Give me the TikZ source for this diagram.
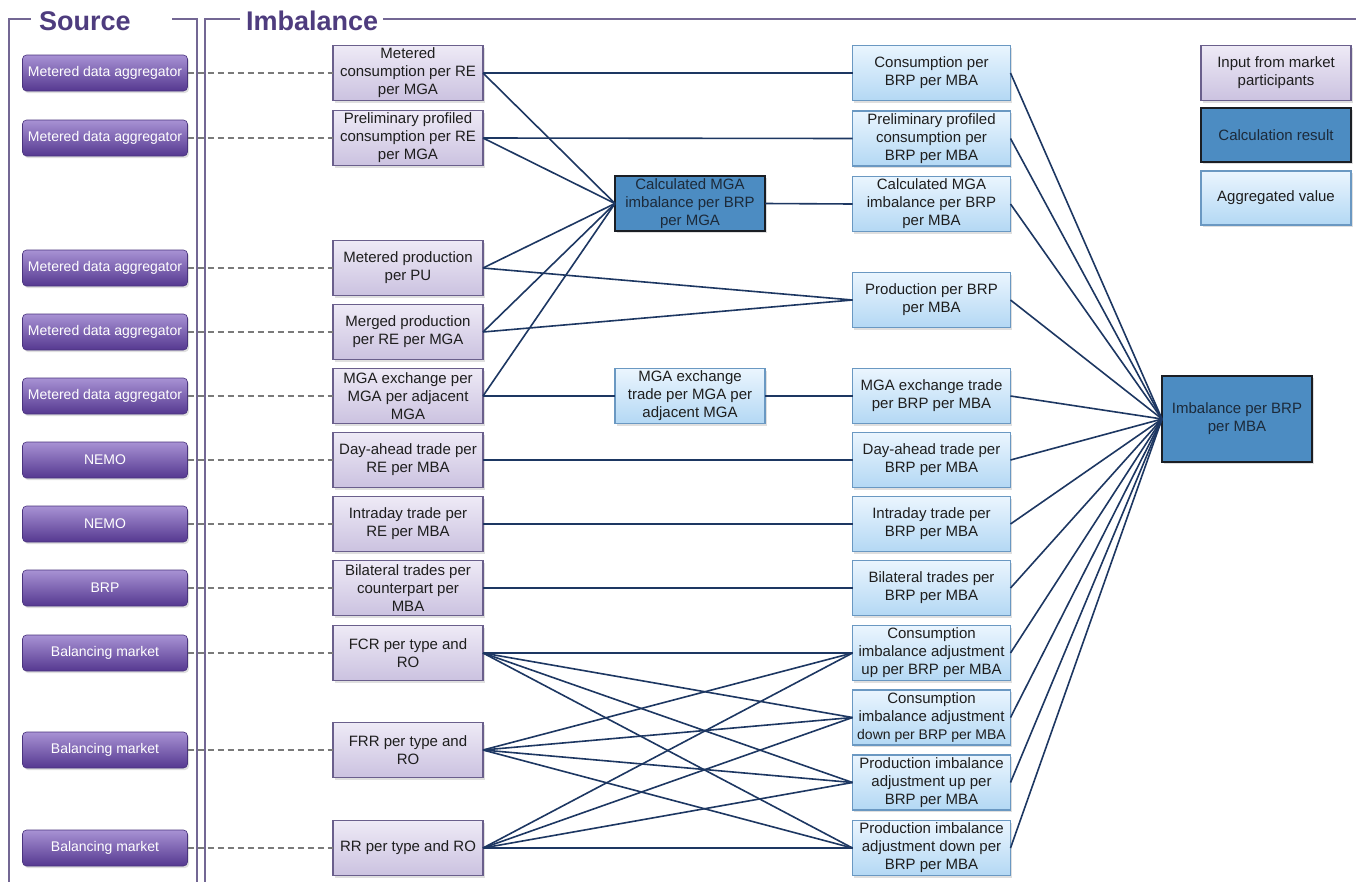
\documentclass[tikz,border=0pt]{standalone}
\usepackage{fontspec}
\setmainfont{Liberation Sans}
\usetikzlibrary{shadows}
\definecolor{frameC}{HTML}{736794}
\definecolor{titleC}{HTML}{4E3C7E}
\definecolor{srcTop}{HTML}{A892D4}
\definecolor{srcBot}{HTML}{553890}
\definecolor{srcEdge}{HTML}{4A347E}
\definecolor{inTop}{HTML}{EEEAF6}
\definecolor{inBot}{HTML}{CBC2E0}
\definecolor{inEdge}{HTML}{6A5F8C}
\definecolor{calcFill}{HTML}{4C8CC2}
\definecolor{calcEdge}{HTML}{1A1E24}
\definecolor{calcText}{HTML}{1C2A3A}
\definecolor{aggTop}{HTML}{EAF5FE}
\definecolor{aggBot}{HTML}{B3D8F4}
\definecolor{aggEdge}{HTML}{6A98C2}
\definecolor{linkC}{HTML}{1D3762}
\definecolor{dashC}{HTML}{7A7A7A}
\definecolor{txt}{HTML}{1E1E1E}
\tikzset{
  x=1pt,y=-1pt,
  every node/.style={inner sep=0pt, outer sep=0pt},
  shad/.style={drop shadow={opacity=0.25, shadow xshift=1.5pt, shadow yshift=-2pt}},
  srcbox/.style={shad, rounded corners=4pt, top color=srcTop, bottom color=srcBot, draw=srcEdge, line width=0.6pt,
    minimum width=165pt, minimum height=36pt, text=white, font=\fontsize{14}{16}\selectfont},
  inbox/.style={shad, top color=inTop, bottom color=inBot, draw=inEdge, line width=1.4pt,
    minimum width=150pt, minimum height=55pt, align=center, text=txt, font=\fontsize{15}{18}\selectfont},
  calcbox/.style={shad, fill=calcFill, draw=calcEdge, line width=1.8pt,
    minimum width=150pt, minimum height=55pt, align=center, text=calcText, font=\fontsize{15}{18}\selectfont},
  aggbox/.style={shad, top color=aggTop, bottom color=aggBot, draw=aggEdge, line width=1.3pt,
    minimum width=158pt, minimum height=55pt, align=center, text=txt, font=\fontsize{15}{18}\selectfont},
  link/.style={draw=linkC, line width=1.6pt},
  dashlink/.style={draw=dashC, line width=1.4pt, dash pattern=on 6pt off 4pt},
  framel/.style={draw=frameC, line width=2.5pt},
  titletext/.style={text=titleC, font=\fontsize{27}{30}\selectfont\bfseries, anchor=west},
}
\begin{document}
\begin{tikzpicture}
\useasboundingbox[fill=white] (0,0) rectangle (1356,881);

% frames
\node[titletext] (tsrc) at (39,21) {Source};
\node[titletext] (timb) at (246,21) {Imbalance};
\coordinate (f1a) at (9,900);
\coordinate (f1b) at (9,19);
\coordinate (f1c) at (31,19);
\coordinate (f1d) at (172,19);
\coordinate (f1e) at (197,19);
\coordinate (f1f) at (197,900);
\coordinate (f2a) at (205,900);
\coordinate (f2b) at (205,19);
\coordinate (f2c) at (240,19);
\coordinate (f2d) at (383,19);
\coordinate (f2e) at (1360,19);
\draw[framel] (f1a) -- (f1b) -- (f1c);
\draw[framel] (f1d) -- (f1e) -- (f1f);
\draw[framel] (f2a) -- (f2b) -- (f2c);
\draw[framel] (f2d) -- (f2e);

% source boxes
\node[srcbox] (s1) at (105,73) {Metered data aggregator};
\node[srcbox] (s2) at (105,138) {Metered data aggregator};
\node[srcbox] (s3) at (105,268) {Metered data aggregator};
\node[srcbox] (s4) at (105,332) {Metered data aggregator};
\node[srcbox] (s5) at (105,396) {Metered data aggregator};
\node[srcbox] (s6) at (105,460) {NEMO};
\node[srcbox] (s7) at (105,524) {NEMO};
\node[srcbox] (s8) at (105,588) {BRP};
\node[srcbox] (s9) at (105,653) {Balancing market};
\node[srcbox] (s10) at (105,750) {Balancing market};
\node[srcbox] (s11) at (105,848) {Balancing market};

% input boxes
\node[inbox] (i1) at (408,73) {Metered\\consumption per RE\\per MGA};
\node[inbox] (i2) at (408,138) {Preliminary profiled\\consumption per RE\\per MGA};
\node[inbox] (i3) at (408,268) {Metered production\\per PU};
\node[inbox] (i4) at (408,332) {Merged production\\per RE per MGA};
\node[inbox] (i5) at (408,396) {MGA exchange per\\MGA per adjacent\\MGA};
\node[inbox] (i6) at (408,460) {Day-ahead trade per\\RE per MBA};
\node[inbox] (i7) at (408,524) {Intraday trade per\\RE per MBA};
\node[inbox] (i8) at (408,588) {Bilateral trades per\\counterpart per\\MBA};
\node[inbox] (i9) at (408,653) {FCR per type and\\RO};
\node[inbox] (i10) at (408,750) {FRR per type and\\RO};
\node[inbox] (i11) at (408,848) {RR per type and RO};

% middle
\node[calcbox] (c1) at (690,203.5) {Calculated MGA\\imbalance per BRP\\per MGA};
\node[aggbox, minimum width=150pt] (c2) at (690,396) {MGA exchange\\trade per MGA per\\adjacent MGA};

% right column
\node[aggbox] (r1) at (931.5,73) {Consumption per\\BRP per MBA};
\node[aggbox] (r2) at (931.5,138.5) {Preliminary profiled\\consumption per\\BRP per MBA};
\node[aggbox] (r3) at (931.5,204) {Calculated MGA\\imbalance per BRP\\per MBA};
\node[aggbox] (r4) at (931.5,300) {Production per BRP\\per MBA};
\node[aggbox] (r5) at (931.5,396) {MGA exchange trade\\per BRP per MBA};
\node[aggbox] (r6) at (931.5,460) {Day-ahead trade per\\BRP per MBA};
\node[aggbox] (r7) at (931.5,524) {Intraday trade per\\BRP per MBA};
\node[aggbox] (r8) at (931.5,588) {Bilateral trades per\\BRP per MBA};
\node[aggbox] (r9) at (931.5,653) {Consumption\\imbalance adjustment\\up per BRP per MBA};
\node[aggbox] (r10) at (931.5,717.5) {Consumption\\imbalance adjustment\\{\fontsize{14}{18}\selectfont down per BRP per MBA}};
\node[aggbox] (r11) at (931.5,782.5) {Production imbalance\\adjustment up per\\BRP per MBA};
\node[aggbox] (r12) at (931.5,848) {Production imbalance\\adjustment down per\\BRP per MBA};

\node[calcbox, minimum height=86pt] (imb) at (1237,419) {Imbalance per BRP\\per MBA};

% legend
\node[inbox] (l1) at (1276,73) {Input from market\\participants};
\node[calcbox, minimum height=54pt] (l2) at (1276,135) {Calculation result};
\node[aggbox, minimum width=150pt, minimum height=54pt] (l3) at (1276,198) {Aggregated value};

% dashed source links
\foreach \k in {1,...,11} {\draw[dashlink] (s\k.east) -- (i\k.west);}

% links
\draw[link] (i1.east) -- (r1.west);
\draw[link] (i2.east) -- (r2.west);
\draw[link] (i1.east) -- (c1.west);
\draw[link] (i2.east) -- (c1.west);
\draw[link] (i3.east) -- (c1.west);
\draw[link] (i4.east) -- (c1.west);
\draw[link] (i5.east) -- (c1.west);
\draw[link] (c1.east) -- (r3.west);
\draw[link] (i3.east) -- (r4.west);
\draw[link] (i4.east) -- (r4.west);
\draw[link] (i5.east) -- (c2.west);
\draw[link] (c2.east) -- (r5.west);
\draw[link] (i6.east) -- (r6.west);
\draw[link] (i7.east) -- (r7.west);
\draw[link] (i8.east) -- (r8.west);
\foreach \a in {9,10,11} {\foreach \b in {9,10,11,12} {\draw[link] (i\a.east) -- (r\b.west);}}
\foreach \b in {1,...,12} {\draw[link] (r\b.east) -- (imb.west);}
\end{tikzpicture}
\end{document}
